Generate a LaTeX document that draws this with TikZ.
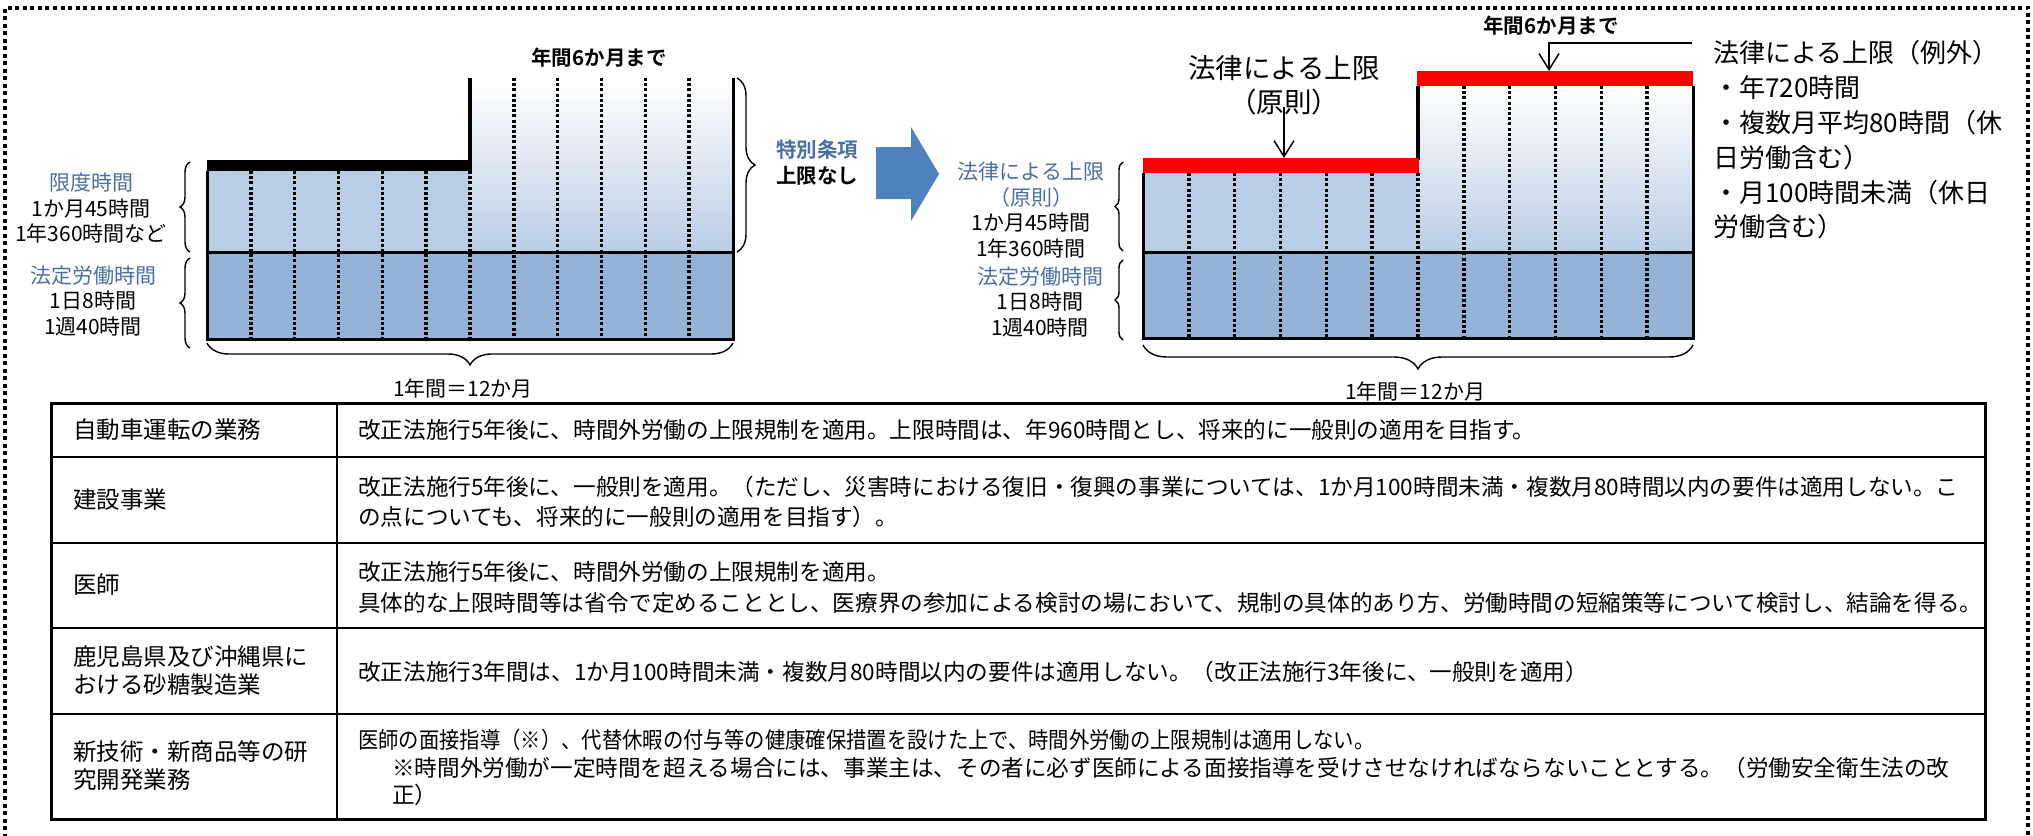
\documentclass[tikz,border=0pt]{standalone}
\usepackage{fontspec}
\usepackage{graphicx}
\setmainfont{Noto Sans CJK JP}[BoldFont={Noto Sans CJK JP Bold}]
\usetikzlibrary{decorations.pathreplacing,arrows.meta}
\definecolor{lblue}{HTML}{B9CDE5}
\definecolor{mblue}{HTML}{95B3D7}
\definecolor{tblue}{HTML}{4A6FA5}
\definecolor{arrblue}{HTML}{4F81BD}
\definecolor{capred}{HTML}{FF0000}
\begin{document}
\begin{tikzpicture}[x=1pt,y=-1pt,
  lbl/.style={inner sep=0pt,align=center,font=\fontsize{21}{25.5}\selectfont},
  cell/.style={inner sep=0pt,anchor=west,font=\fontsize{22.6}{28}\selectfont},
  rowhead/.style={inner sep=0pt,anchor=west,align=left,font=\fontsize{23.5}{28}\selectfont},
  heavy/.style={inner sep=0pt,font=\fontsize{20.5}{26}\selectfont\bfseries},
  dotcol/.style={line width=3.6pt,dash pattern=on 3pt off 2.2pt},
  edgeline/.style={line width=3pt},
  brc/.style={decorate,decoration={brace,amplitude=#1},line width=1.4pt},
  ptr/.style={line width=1.5pt,-{Straight Barb[length=16pt,width=20pt]}},
  frameline/.style={line width=4.5pt,dash pattern=on 4pt off 3.5pt},
]
\useasboundingbox (0,0) rectangle (2033,835);
% outer frame
\draw[frameline] (5,860) -- (5,8) -- (2028,8) -- (2028,860);

% ===== left chart =====
\fill[mblue] (207,252) rectangle (733,339);
\fill[lblue] (207,171) rectangle (470,252);
\shade[top color=white, bottom color=lblue] (470,78) rectangle (733,252);
\foreach \k in {1,...,6} \draw[dotcol] ({207+\k*43.83},171) -- ({207+\k*43.83},339);
\foreach \k in {7,...,11} \draw[dotcol] ({207+\k*43.83},78) -- ({207+\k*43.83},339);
\draw[edgeline] (207,171) -- (207,339) -- (733,339) -- (733,78);
\draw[edgeline] (207,252) -- (733,252);
\fill[black] (207,160) rectangle (472,171);
\draw[line width=4pt] (470,171) -- (470,78);

\node[heavy] (six1) at (599,58) {年間6か月まで};
\node[lbl] (lim) at (91,208.5) {\textcolor{tblue}{限度時間}\\1か月45時間\\1年360時間など};
\node[lbl] (leg) at (93,301) {\textcolor{tblue}{法定労働時間}\\1日8時間\\1週40時間};
\draw[brc=10pt] (190,252) -- (190,162);
\draw[brc=10pt] (190,348) -- (190,258);
\draw[brc=18pt] (737,78) -- (737,252);
\draw[brc=22pt] (733,343) -- (207,343);
\node[lbl] (yr1) at (463,388) {1年間＝12か月};

% special clause
\node[heavy,text=tblue] (tok) at (817,150) {特別条項};
\node[heavy] (nolim) at (817,176) {上限なし};
\fill[arrblue] (876,147) -- (911,147) -- (911,127) -- (939,174) -- (911,221) -- (911,199) -- (876,199) -- cycle;

% ===== right chart =====
\fill[mblue] (1143,252) rectangle (1693,338);
\fill[lblue] (1143,173) rectangle (1418,252);
\shade[top color=white, bottom color=lblue] (1418,86) rectangle (1693,252);
\foreach \k in {1,...,6} \draw[dotcol] ({1143+\k*45.83},173) -- ({1143+\k*45.83},338);
\foreach \k in {7,...,11} \draw[dotcol] ({1143+\k*45.83},86) -- ({1143+\k*45.83},338);
\draw[edgeline] (1143,173) -- (1143,338) -- (1693,338) -- (1693,86);
\draw[edgeline] (1143,252) -- (1693,252);
\draw[line width=4pt] (1418,160) -- (1418,86);
\fill[capred] (1143,158) rectangle (1419,173);
\fill[capred] (1417,71) rectangle (1693,86);

\node[lbl] (rlim) at (1031,210) {\textcolor{tblue}{法律による上限}\\\textcolor{tblue}{（原則）}\\1か月45時間\\1年360時間};
\node[lbl] (rleg) at (1040,302) {\textcolor{tblue}{法定労働時間}\\1日8時間\\1週40時間};
\draw[brc=8pt] (1123,251) -- (1123,162);
\draw[brc=8pt] (1123,340) -- (1123,260);
\draw[brc=24pt] (1693,345) -- (1143,345);
\node[lbl] (yr2) at (1415,391) {1年間＝12か月};

\node[inner sep=0pt,font=\fontsize{27.5}{32}\selectfont] (genlaw) at (1284,68) {法律による上限};
\node[inner sep=0pt,font=\fontsize{27.5}{32}\selectfont] (gensoku) at (1284,102) {（原則）};
\coordinate (redAtop) at (1284,158);
\draw[ptr] ([yshift=8pt]gensoku.south) -- (redAtop);

\node[heavy] (six2) at (1551,26) {年間6か月まで};
\coordinate (exfrom) at (1692,43);
\coordinate (redBtop) at (1549,71);
\draw[ptr] (exfrom) -| (redBtop);

\node[inner sep=0pt,anchor=west,align=left,font=\fontsize{26}{34.8}\selectfont] (exc) at (1713,140)
  {法律による上限（例外）\\・年720時間\\・複数月平均80時間（休\\日労働含む）\\・月100時間未満（休日\\労働含む）};

% ===== table =====
\draw[line width=3pt] (51,403) rectangle (1985,819);
\draw[line width=2.5pt] (337,403) -- (337,819);
\foreach \yy in {457,543,628,714} \draw[line width=2.5pt] (51,\yy) -- (1985,\yy);

\node[rowhead] (r1h) at (73,430) {自動車運転の業務};
\node[cell] (r1t) at (358,430) {改正法施行5年後に、時間外労働の上限規制を適用。上限時間は、年960時間とし、将来的に一般則の適用を目指す。};
\node[rowhead] (r2h) at (73,500) {建設事業};
\node[cell] (r2a) at (358,487) {改正法施行5年後に、一般則を適用。（ただし、災害時における復旧・復興の事業については、1か月100時間未満・複数月80時間以内の要件は適用しない。こ};
\node[cell] (r2b) at (358,517) {の点についても、将来的に一般則の適用を目指す）。};
\node[rowhead] (r3h) at (73,585) {医師};
\node[cell] (r3a) at (358,572) {改正法施行5年後に、時間外労働の上限規制を適用。};
\node[cell] (r3b) at (358,603) {具体的な上限時間等は省令で定めることとし、医療界の参加による検討の場において、規制の具体的あり方、労働時間の短縮策等について検討し、結論を得る。};
\node[rowhead] (r4h) at (73,671) {鹿児島県及び沖縄県に\\おける砂糖製造業};
\node[cell] (r4t) at (358,672) {改正法施行3年間は、1か月100時間未満・複数月80時間以内の要件は適用しない。（改正法施行3年後に、一般則を適用）};
\node[rowhead] (r5h) at (73,766) {新技術・新商品等の研\\究開発業務};
\node[cell] (r5a) at (358,740) {\scalebox{0.9}[1]{医師の面接指導（※）、代替休暇の付与等の健康確保措置を設けた上で、時間外労働の上限規制は適用しない。}};
\node[cell] (r5b) at (392,768) {※時間外労働が一定時間を超える場合には、事業主は、その者に必ず医師による面接指導を受けさせなければならないこととする。（労働安全衛生法の改};
\node[cell] (r5c) at (392,795) {正）};
\end{tikzpicture}
\end{document}
